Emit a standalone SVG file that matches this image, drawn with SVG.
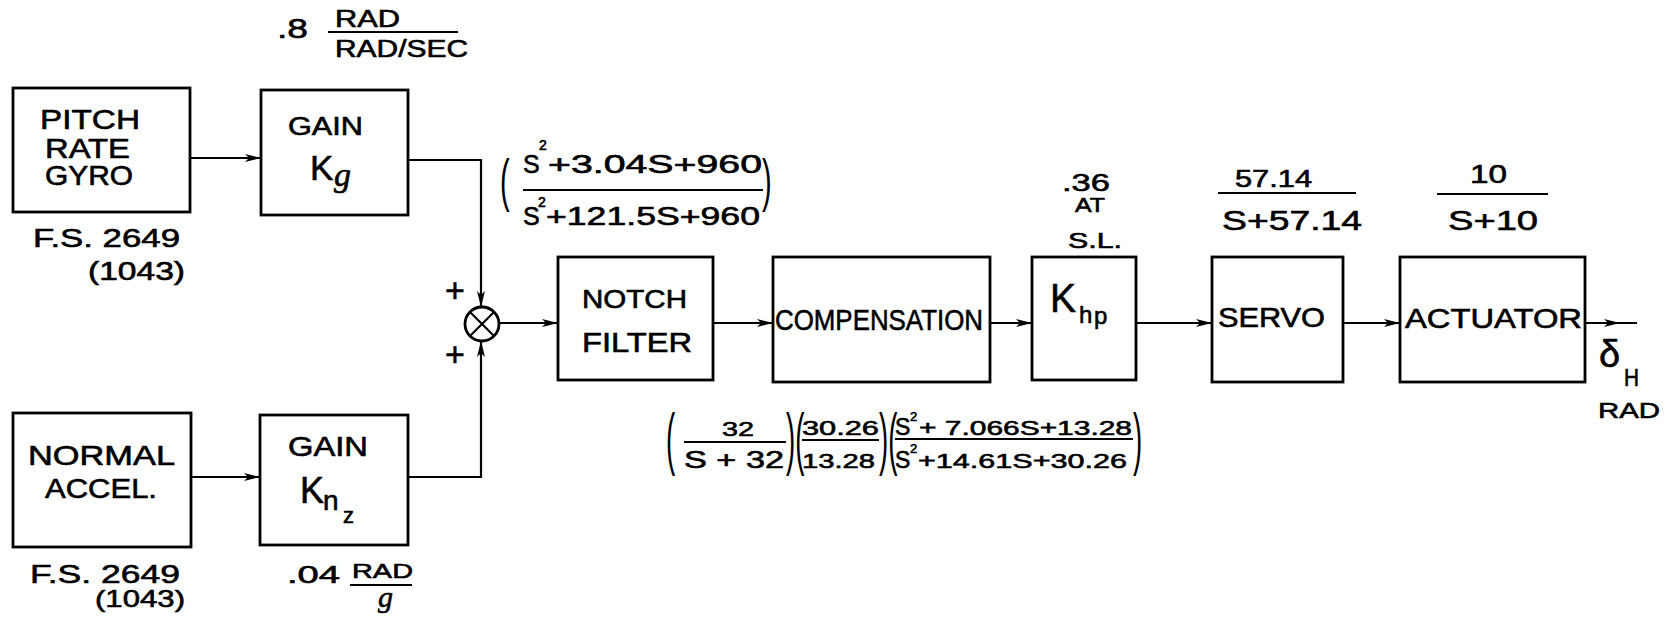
<svg xmlns="http://www.w3.org/2000/svg" width="1671" height="620" viewBox="0 0 1671 620">
<style>
.b{fill:none;stroke:#000;stroke-width:2.8}
.c{fill:none;stroke:#000;stroke-width:2.2}
.l{fill:none;stroke:#000;stroke-width:2.2}
.t{font-family:"Liberation Sans",Arial,sans-serif;fill:#000;stroke:#000;stroke-width:0.6}
.i{font-family:"Liberation Serif","Times New Roman",serif;font-style:italic;fill:#000;stroke:#000;stroke-width:0.6}
.p{font-family:"Liberation Sans",Arial,sans-serif;fill:#000}
</style>
<defs>
<marker id="ah" viewBox="0 0 16 10" refX="16" refY="5" markerWidth="16" markerHeight="10" markerUnits="userSpaceOnUse" orient="auto">
<path d="M0,1 L16,5 L0,9 L4,5 Z" fill="#000"/>
</marker>
</defs>
<rect width="1671" height="620" fill="#fff"/>

<g id="pitch-rate-gyro">
<rect class="b" x="13" y="88" width="177" height="124"/>
<text class="t" x="40" y="129" font-size="27" textLength="100" lengthAdjust="spacingAndGlyphs">PITCH</text>
<text class="t" x="45" y="158" font-size="27" textLength="85" lengthAdjust="spacingAndGlyphs">RATE</text>
<text class="t" x="45" y="185" font-size="27" textLength="88" lengthAdjust="spacingAndGlyphs">GYRO</text>
<text class="t" x="33" y="247" font-size="26" textLength="147" lengthAdjust="spacingAndGlyphs">F.S. 2649</text>
<text class="t" x="88" y="280" font-size="25" textLength="97" lengthAdjust="spacingAndGlyphs">(1043)</text>
</g>

<g id="gain-kg">
<rect class="b" x="261" y="90" width="147" height="125"/>
<text class="t" x="288" y="135" font-size="25" textLength="75" lengthAdjust="spacingAndGlyphs">GAIN</text>
<text class="t" x="310" y="180" font-size="35">K</text>
<text class="i" x="334" y="186" font-size="34">g</text>
<text class="t" x="277" y="38" font-size="28" textLength="31" lengthAdjust="spacingAndGlyphs">.8</text>
<text class="t" x="335" y="27" font-size="23" textLength="65" lengthAdjust="spacingAndGlyphs">RAD</text>
<line class="l" x1="328" y1="32" x2="458" y2="32"/>
<text class="t" x="335" y="57" font-size="23" textLength="133" lengthAdjust="spacingAndGlyphs">RAD/SEC</text>
</g>

<g id="normal-accel">
<rect class="b" x="13" y="413" width="178" height="134"/>
<text class="t" x="28" y="465" font-size="27" textLength="147" lengthAdjust="spacingAndGlyphs">NORMAL</text>
<text class="t" x="45" y="498" font-size="27" textLength="112" lengthAdjust="spacingAndGlyphs">ACCEL.</text>
<text class="t" x="30" y="583" font-size="26" textLength="150" lengthAdjust="spacingAndGlyphs">F.S. 2649</text>
<text class="t" x="95" y="607" font-size="24" textLength="90" lengthAdjust="spacingAndGlyphs">(1043)</text>
</g>

<g id="gain-knz">
<rect class="b" x="260" y="415" width="148" height="130"/>
<text class="t" x="288" y="456" font-size="27" textLength="80" lengthAdjust="spacingAndGlyphs">GAIN</text>
<text class="t" x="300" y="503" font-size="36">K</text>
<text class="t" x="323" y="510" font-size="28">n</text>
<text class="t" x="343" y="523" font-size="22">z</text>
<text class="t" x="287" y="583" font-size="24" textLength="53" lengthAdjust="spacingAndGlyphs">.04</text>
<text class="t" x="352" y="578" font-size="21" textLength="61" lengthAdjust="spacingAndGlyphs">RAD</text>
<line class="l" x1="350" y1="585" x2="412" y2="585"/>
<text class="i" x="378" y="607" font-size="30">g</text>
</g>

<g id="summer">
<circle class="b" cx="482" cy="324" r="17"/>
<line class="c" x1="470" y1="312" x2="494" y2="336"/>
<line class="c" x1="494" y1="312" x2="470" y2="336"/>
<text class="t" x="455" y="302" font-size="34" text-anchor="middle">+</text>
<text class="t" x="455" y="366" font-size="34" text-anchor="middle">+</text>
</g>

<g id="notch-filter">
<rect class="b" x="558" y="257" width="155" height="123"/>
<text class="t" x="582" y="308" font-size="25" textLength="105" lengthAdjust="spacingAndGlyphs">NOTCH</text>
<text class="t" x="582" y="352" font-size="27" textLength="110" lengthAdjust="spacingAndGlyphs">FILTER</text>
<text class="p" font-size="58" transform="translate(500,200) scale(0.5,1)">(</text>
<text class="t" x="523" y="173" font-size="25">S</text>
<text class="t" x="539" y="150" font-size="14">2</text>
<text class="t" x="548" y="173" font-size="25" textLength="214" lengthAdjust="spacingAndGlyphs">+3.04S+960</text>
<line class="l" x1="523" y1="190" x2="763" y2="190"/>
<text class="t" x="523" y="225" font-size="25">S</text>
<text class="t" x="538" y="207" font-size="14">2</text>
<text class="t" x="546" y="225" font-size="25" textLength="214" lengthAdjust="spacingAndGlyphs">+121.5S+960</text>
<text class="p" font-size="58" transform="translate(762,200) scale(0.5,1)">)</text>
</g>

<g id="compensation">
<rect class="b" x="773" y="257" width="217" height="125"/>
<text class="t" x="775" y="330" font-size="30" textLength="208" lengthAdjust="spacingAndGlyphs">COMPENSATION</text>
<text class="p" font-size="69" transform="translate(666,462) scale(0.4,1)">(</text>
<text class="t" x="722" y="436" font-size="21" textLength="32" lengthAdjust="spacingAndGlyphs">32</text>
<line class="l" x1="684" y1="442" x2="786" y2="442"/>
<text class="t" x="684" y="468" font-size="23" textLength="100" lengthAdjust="spacingAndGlyphs">S + 32</text>
<text class="p" font-size="69" transform="translate(786,462) scale(0.4,1)">)(</text>
<text class="t" x="802" y="435" font-size="21" textLength="77" lengthAdjust="spacingAndGlyphs">30.26</text>
<line class="l" x1="802" y1="440" x2="879" y2="440"/>
<text class="t" x="802" y="468" font-size="21" textLength="73" lengthAdjust="spacingAndGlyphs">13.28</text>
<text class="p" font-size="69" transform="translate(879,462) scale(0.4,1)">)(</text>
<text class="t" x="895" y="435" font-size="23">S</text>
<text class="t" x="910" y="421" font-size="13">2</text>
<text class="t" x="919" y="435" font-size="21" textLength="213" lengthAdjust="spacingAndGlyphs">+ 7.066S+13.28</text>
<line class="l" x1="895" y1="439" x2="1133" y2="439"/>
<text class="t" x="895" y="468" font-size="23">S</text>
<text class="t" x="910" y="453" font-size="13">2</text>
<text class="t" x="918" y="468" font-size="21" textLength="209" lengthAdjust="spacingAndGlyphs">+14.61S+30.26</text>
<text class="p" font-size="69" transform="translate(1133,462) scale(0.4,1)">)</text>
</g>

<g id="khp">
<rect class="b" x="1032" y="257" width="104" height="123"/>
<text class="t" x="1050" y="312" font-size="40" textLength="26" lengthAdjust="spacingAndGlyphs">K</text>
<text class="t" x="1079" y="323" font-size="24">h</text>
<text class="t" x="1094" y="324" font-size="24">p</text>
<text class="t" x="1062" y="191" font-size="23" textLength="48" lengthAdjust="spacingAndGlyphs">.36</text>
<text class="t" x="1075" y="212" font-size="20" textLength="30" lengthAdjust="spacingAndGlyphs">AT</text>
<text class="t" x="1068" y="248" font-size="22" textLength="54" lengthAdjust="spacingAndGlyphs">S.L.</text>
</g>

<g id="servo">
<rect class="b" x="1212" y="257" width="131" height="125"/>
<text class="t" x="1218" y="327" font-size="27" textLength="107" lengthAdjust="spacingAndGlyphs">SERVO</text>
<text class="t" x="1235" y="187" font-size="24" textLength="77" lengthAdjust="spacingAndGlyphs">57.14</text>
<line class="l" x1="1218" y1="193" x2="1356" y2="193"/>
<text class="t" x="1222" y="230" font-size="28" textLength="140" lengthAdjust="spacingAndGlyphs">S+57.14</text>
</g>

<g id="actuator">
<rect class="b" x="1400" y="257" width="185" height="125"/>
<text class="t" x="1405" y="328" font-size="27" textLength="177" lengthAdjust="spacingAndGlyphs">ACTUATOR</text>
<text class="t" x="1470" y="183" font-size="25" textLength="37" lengthAdjust="spacingAndGlyphs">10</text>
<line class="l" x1="1437" y1="194" x2="1548" y2="194"/>
<text class="t" x="1448" y="230" font-size="28" textLength="90" lengthAdjust="spacingAndGlyphs">S+10</text>
</g>

<g id="output">
<text class="t" x="1599" y="367" font-size="38">δ</text>
<text class="t" x="1624" y="386" font-size="23" textLength="15" lengthAdjust="spacingAndGlyphs">H</text>
<text class="t" x="1598" y="418" font-size="22" textLength="62" lengthAdjust="spacingAndGlyphs">RAD</text>
</g>

<g id="connectors">
<path class="c" d="M190,158 H261" marker-end="url(#ah)"/>
<path class="c" d="M191,477 H260" marker-end="url(#ah)"/>
<path class="c" d="M408,160 H481 V307" marker-end="url(#ah)"/>
<path class="c" d="M408,477 H481 V341" marker-end="url(#ah)"/>
<path class="c" d="M499,323 H558" marker-end="url(#ah)"/>
<path class="c" d="M713,323 H773" marker-end="url(#ah)"/>
<path class="c" d="M990,323 H1032" marker-end="url(#ah)"/>
<path class="c" d="M1136,323 H1212" marker-end="url(#ah)"/>
<path class="c" d="M1343,323 H1400" marker-end="url(#ah)"/>
<path class="c" d="M1585,323 H1620 H1637" marker-mid="url(#ah)"/>
</g>
</svg>
